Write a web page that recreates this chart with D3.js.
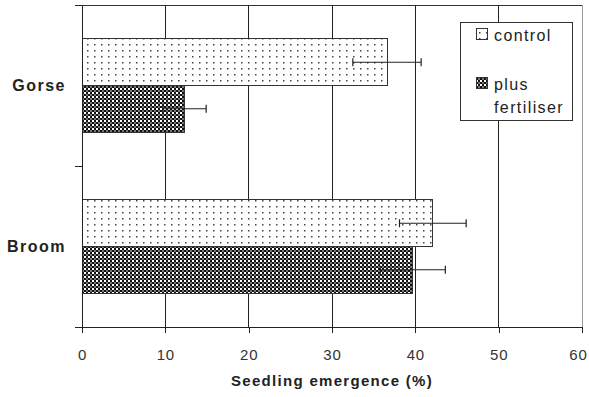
<!DOCTYPE html>
<html>
<head>
<meta charset="utf-8">
<title>Seedling emergence</title>
<script src="https://cdn.jsdelivr.net/npm/d3@7"></script>
<style>
	body { margin: 0; background: #fff; }
	svg { display: block; }
	.axis text { font-family: "Liberation Sans", Arial, sans-serif; font-size: 15px; fill: #333; letter-spacing: 0.8px; }
	.axis path, .axis line { stroke: #222; shape-rendering: crispEdges; }
</style>
</head>
<body>
<script>
// data
var categories = ["Gorse", "Broom"];
var seriesNames = ["control", "plus fertiliser"];
var controlValues = [36.6, 42.1];
var controlErrors = [4.1, 4.0];
var fertValues = [12.3, 39.7];
var fertErrors = [2.6, 3.9];
var xTicks = [0, 10, 20, 30, 40, 50, 60];

var width = 589, height = 397;
var plotLeft = 82, plotRight = 582, plotTop = 5, plotBottom = 327;

var svg = d3.select("body").append("svg")
	.attr("width", width)
	.attr("height", height);

// patterns
var defs = svg.append("defs");
var dots = defs.append("pattern")
	.attr("id", "dots")
	.attr("patternUnits", "userSpaceOnUse")
	.attr("width", 7).attr("height", 6);
dots.append("rect").attr("width", 7).attr("height", 6).attr("fill", "#fff");
dots.append("rect").attr("x", 3).attr("y", 2).attr("width", 1.5).attr("height", 1.5).attr("fill", "#444");

var checks = defs.append("pattern")
	.attr("id", "checks")
	.attr("patternUnits", "userSpaceOnUse")
	.attr("width", 4).attr("height", 4);
checks.append("rect").attr("width", 4).attr("height", 4).attr("fill", "#111");
checks.append("rect").attr("width", 2).attr("height", 2).attr("fill", "#fff");
checks.append("rect").attr("x", 2).attr("y", 2).attr("width", 2).attr("height", 2).attr("fill", "#777");

var fills = ["url(#dots)", "url(#checks)"];

var xScale = d3.scaleLinear().domain([0, 60]).range([plotLeft, plotRight]);
var yScale = d3.scaleBand().domain(categories).range([plotTop, plotBottom]);
var ySub = d3.scaleBand().domain(seriesNames).range([0, yScale.bandwidth()]).paddingOuter(0.73);
var yEdges = d3.scaleLinear().domain([0, categories.length]).range([plotTop, plotBottom]);

// plot frame
svg.append("line")
	.attr("x1", plotRight).attr("x2", plotRight).attr("y1", plotTop).attr("y2", plotBottom)
	.attr("stroke", "#999").attr("shape-rendering", "crispEdges");
svg.append("line")
	.attr("x1", plotLeft).attr("x2", plotRight).attr("y1", plotTop).attr("y2", plotTop)
	.attr("stroke", "#333").attr("shape-rendering", "crispEdges");

// gridlines
svg.append("g").selectAll("line")
	.data(xTicks.filter(function (d) { return d > 0 && d < 60; }))
	.enter().append("line")
	.attr("x1", function (d) { return xScale(d); })
	.attr("x2", function (d) { return xScale(d); })
	.attr("y1", plotTop).attr("y2", plotBottom)
	.attr("stroke", "#222")
	.attr("shape-rendering", "crispEdges");

// bars
var data = [];
categories.forEach(function (c, i) {
	data.push({ cat: c, s: seriesNames[0], v: controlValues[i], e: controlErrors[i], k: 0 });
	data.push({ cat: c, s: seriesNames[1], v: fertValues[i], e: fertErrors[i], k: 1 });
});

svg.append("g").selectAll("rect")
	.data(data)
	.enter().append("rect")
	.attr("x", xScale(0))
	.attr("y", function (d) { return yScale(d.cat) + ySub(d.s); })
	.attr("width", function (d) { return xScale(d.v) - xScale(0); })
	.attr("height", ySub.bandwidth())
	.attr("fill", function (d) { return fills[d.k]; })
	.attr("stroke", "#333")
	.attr("stroke-width", 1)
	.attr("shape-rendering", "crispEdges");

// error bars
var err = svg.append("g").selectAll("g")
	.data(data)
	.enter().append("g")
	.attr("stroke", "#222")
	.attr("stroke-width", 1.2);
err.append("line")
	.attr("x1", function (d) { return xScale(d.v - d.e); })
	.attr("x2", function (d) { return xScale(d.v + d.e); })
	.attr("y1", function (d) { return yScale(d.cat) + ySub(d.s) + ySub.bandwidth() / 2; })
	.attr("y2", function (d) { return yScale(d.cat) + ySub(d.s) + ySub.bandwidth() / 2; });
[-1, 1].forEach(function (sign) {
	err.append("line")
		.attr("x1", function (d) { return xScale(d.v + sign * d.e); })
		.attr("x2", function (d) { return xScale(d.v + sign * d.e); })
		.attr("y1", function (d) { return yScale(d.cat) + ySub(d.s) + ySub.bandwidth() / 2 - 4; })
		.attr("y2", function (d) { return yScale(d.cat) + ySub(d.s) + ySub.bandwidth() / 2 + 4; });
});

// axes
svg.append("g")
	.attr("class", "axis")
	.attr("transform", "translate(0," + plotBottom + ")")
	.call(d3.axisBottom(xScale).tickValues(xTicks).tickSize(6).tickSizeOuter(0).tickPadding(16))
	.call(function (g) { g.select(".domain").attr("d", "M" + (plotLeft - 7) + ",0.5H" + plotRight); })
	.call(function (g) { g.selectAll(".tick:last-of-type text").attr("dx", -4); });

svg.append("g")
	.attr("class", "axis")
	.attr("transform", "translate(" + plotLeft + ",0)")
	.call(d3.axisLeft(yEdges).tickValues(d3.range(categories.length + 1)).tickSize(7).tickSizeOuter(0).tickFormat(""));

// category labels
svg.append("g").selectAll("text")
	.data(categories)
	.enter().append("text")
	.attr("x", 66)
	.attr("y", function (d) { return yScale(d) + yScale.bandwidth() / 2; })
	.attr("dy", "0.36em")
	.attr("text-anchor", "end")
	.attr("font-family", "Liberation Sans, Arial, sans-serif")
	.attr("font-weight", "bold")
	.attr("font-size", 16)
	.attr("letter-spacing", 1.5)
	.attr("fill", "#222")
	.text(function (d) { return d; });

// axis title
svg.append("text")
	.attr("x", (plotLeft + plotRight) / 2)
	.attr("y", 386)
	.attr("text-anchor", "middle")
	.attr("font-family", "Liberation Sans, Arial, sans-serif")
	.attr("font-weight", "bold")
	.attr("font-size", 15)
	.attr("letter-spacing", 1.3)
	.attr("fill", "#222")
	.text("Seedling emergence (%)");

// legend
var legend = svg.append("g");
legend.append("rect")
	.attr("x", 460.5).attr("y", 22.5)
	.attr("width", 112).attr("height", 98)
	.attr("fill", "#fff")
	.attr("stroke", "#333");
var legendRows = [
	{ lines: ["control"], y: 41, fill: fills[0] },
	{ lines: ["plus", "fertiliser"], y: 90, fill: fills[1] }
];
legendRows.forEach(function (r) {
	legend.append("rect")
		.attr("x", 476.5).attr("y", r.y - 12.5)
		.attr("width", 11).attr("height", 11)
		.attr("fill", r.fill)
		.attr("stroke", "#333");
	legend.append("text")
		.attr("x", 494)
		.attr("y", r.y)
		.attr("font-family", "Liberation Sans, Arial, sans-serif")
		.attr("font-size", 16)
		.attr("letter-spacing", 1.4)
		.attr("fill", "#222")
		.selectAll("tspan")
		.data(r.lines)
		.enter().append("tspan")
		.attr("x", 494)
		.attr("dy", function (d, i) { return i === 0 ? 0 : 23; })
		.text(function (d) { return d; });
});
</script>
</body>
</html>
